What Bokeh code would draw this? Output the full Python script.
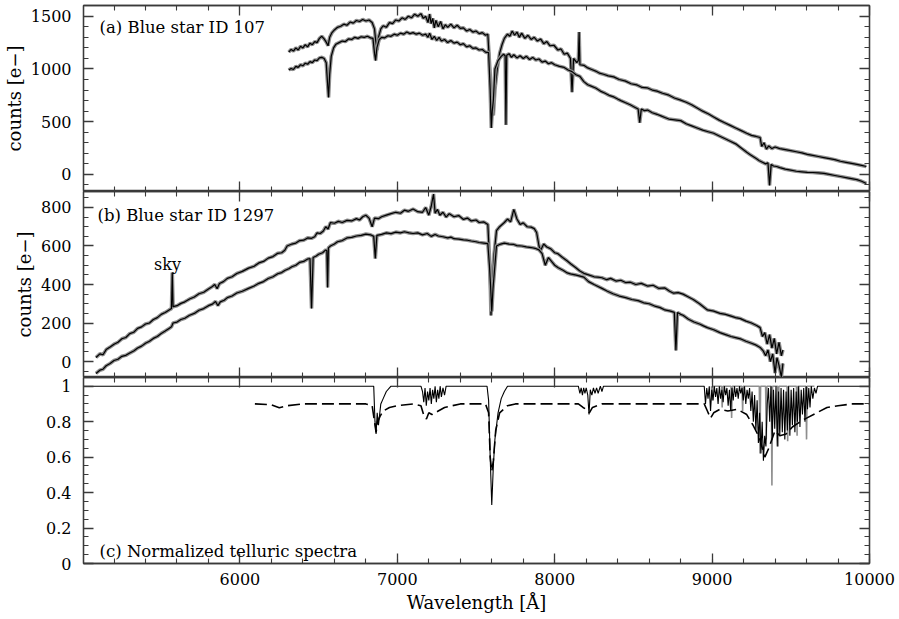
from bokeh.plotting import figure
from bokeh.layouts import column
from bokeh.models import Range1d, LinearAxis, SingleIntervalTicker, Label, CustomJSTickFormatter
from bokeh.embed import file_html
from bokeh.resources import INLINE

# ---------------- data ----------------
# Panel (a): Blue star ID 107, upper spectrum
A_HI_WL = [6310, 6325, 6340, 6355, 6370, 6385, 6400, 6415, 6430, 6445, 6460, 6475, 6490, 6505,
           6520, 6535, 6550, 6560, 6570, 6585, 6600, 6620, 6640, 6660, 6680, 6700, 6720, 6740,
           6760, 6780, 6800, 6820, 6840, 6855, 6865, 6872, 6880, 6895, 6910, 6930, 6950, 6970,
           6990, 7010, 7030, 7050, 7070, 7090, 7110, 7130, 7150, 7165, 7180, 7195, 7205, 7215,
           7225, 7235, 7245, 7260, 7275, 7290, 7305, 7320, 7340, 7360, 7380, 7400, 7420, 7440,
           7460, 7480, 7500, 7520, 7540, 7560, 7575, 7590, 7600, 7610, 7620, 7635, 7650, 7665,
           7680, 7700, 7715, 7730, 7745, 7760, 7775, 7790, 7810, 7830, 7850, 7870, 7890, 7910,
           7930, 7950, 7970, 7995, 8020, 8040, 8060, 8080, 8100, 8110, 8120, 8140, 8150, 8155,
           8160, 8185, 8210, 8235, 8260, 8285, 8310, 8340, 8375, 8410, 8450, 8485, 8520, 8555,
           8590, 8620, 8650, 8685, 8720, 8760, 8800, 8835, 8870, 8905, 8940, 8975, 9010, 9045,
           9080, 9115, 9150, 9185, 9220, 9250, 9280, 9305, 9315, 9330, 9345, 9360, 9380, 9400,
           9430, 9465, 9500, 9535, 9570, 9605, 9640, 9675, 9710, 9745, 9780, 9815, 9850, 9885,
           9920, 9950, 9980]
A_HI_CT = [1160, 1185, 1170, 1200, 1180, 1215, 1200, 1230, 1210, 1245, 1230, 1260, 1250, 1290,
           1310, 1285, 1250, 1220, 1300, 1345, 1370, 1395, 1405, 1425, 1415, 1445, 1435, 1460,
           1450, 1470, 1455, 1465, 1440, 1380, 1230, 1180, 1300, 1380, 1410, 1395, 1440, 1430,
           1465, 1455, 1485, 1470, 1500, 1485, 1520, 1500, 1525, 1480, 1500, 1440, 1520, 1430,
           1480, 1390, 1460, 1400, 1450, 1380, 1420, 1395, 1425, 1390, 1415, 1385, 1390, 1360,
           1375, 1350, 1360, 1335, 1345, 1320, 1330, 950, 620, 560, 800, 1000, 1150, 1230,
           1290, 1330, 1310, 1360, 1320, 1350, 1300, 1340, 1290, 1320, 1280, 1300, 1265, 1285,
           1240, 1260, 1220, 1225, 1180, 1190, 1140, 1150, 1100, 780, 1100, 1060, 1080, 1350,
           1040, 1035, 1010, 995, 980, 960, 950, 935, 925, 900, 885, 860, 850, 825,
           820, 800, 790, 770, 755, 725, 705, 685, 660, 630, 600, 575, 545, 515,
           490, 465, 440, 415, 390, 370, 360, 350, 265, 300, 240, 270, 245, 260,
           245, 235, 225, 215, 205, 190, 180, 170, 160, 150, 140, 125, 115, 105,
           95, 85, 75]
# Panel (a): lower spectrum
A_LO_WL = [6310, 6325, 6340, 6355, 6370, 6385, 6400, 6415, 6430, 6445, 6460, 6475, 6490, 6505,
           6520, 6535, 6548, 6555, 6563, 6570, 6580, 6595, 6610, 6630, 6650, 6670, 6690, 6710,
           6730, 6750, 6770, 6790, 6810, 6830, 6845, 6855, 6862, 6870, 6885, 6900, 6920, 6940,
           6960, 6980, 7000, 7020, 7040, 7060, 7080, 7100, 7120, 7140, 7160, 7180, 7195, 7205,
           7220, 7235, 7250, 7265, 7280, 7300, 7320, 7340, 7360, 7380, 7400, 7420, 7440, 7460,
           7480, 7500, 7520, 7540, 7560, 7580, 7590, 7597, 7603, 7610, 7620, 7640, 7660, 7675,
           7685, 7690, 7695, 7710, 7725, 7740, 7760, 7780, 7800, 7820, 7840, 7860, 7880, 7900,
           7920, 7940, 7960, 7980, 8000, 8030, 8060, 8085, 8110, 8135, 8160, 8185, 8210, 8235,
           8260, 8290, 8320, 8345, 8375, 8400, 8420, 8450, 8480, 8505, 8530, 8540, 8550, 8570,
           8590, 8620, 8650, 8675, 8700, 8725, 8750, 8775, 8800, 8835, 8870, 8905, 8940, 8975,
           9010, 9045, 9080, 9115, 9150, 9185, 9220, 9240, 9260, 9280, 9300, 9320, 9340, 9355,
           9365, 9375, 9390, 9410, 9430, 9465, 9500, 9535, 9570, 9605, 9640, 9675, 9710, 9745,
           9780, 9815, 9850, 9885, 9920, 9950, 9980]
A_LO_CT = [990, 1005, 995, 1025, 1015, 1040, 1030, 1055, 1045, 1070, 1060, 1085, 1080, 1105,
           1110, 1100, 1060, 900, 730, 950, 1120, 1200, 1235, 1250, 1265, 1260, 1285, 1280,
           1300, 1290, 1305, 1300, 1310, 1295, 1290, 1150, 1080, 1200, 1280, 1300, 1295, 1315,
           1310, 1330, 1320, 1340, 1330, 1350, 1335, 1345, 1330, 1340, 1320, 1330, 1300, 1340,
           1280, 1310, 1270, 1300, 1265, 1280, 1250, 1270, 1245, 1255, 1230, 1240, 1210, 1220,
           1195, 1200, 1180, 1185, 1160, 1155, 800, 440, 600, 700, 1000, 1080, 1120, 1140,
           1125, 470, 1130, 1145, 1110, 1135, 1105, 1125, 1100, 1120, 1090, 1110, 1085, 1095,
           1065, 1075, 1050, 1060, 1040, 1025, 1015, 990, 975, 945, 930, 880, 850, 835,
           820, 790, 770, 750, 735, 715, 700, 680, 660, 640, 620, 490, 620, 605,
           610, 585, 570, 555, 540, 525, 520, 515, 510, 480, 460, 440, 420, 405,
           390, 365, 340, 315, 290, 250, 210, 190, 170, 150, 130, 115, 100, 110,
           -105, 95, 80, 75, 65, 50, 40, 30, 25, 20, 18, 15, 10, 0,
           -10, -20, -30, -40, -50, -65, -86]

# Panel (b): Blue star ID 1297, upper spectrum
B_HI_WL = [5085, 5110, 5130, 5150, 5175, 5200, 5225, 5250, 5275, 5300, 5325, 5350, 5375, 5400,
           5425, 5450, 5475, 5500, 5525, 5550, 5565, 5570, 5575, 5600, 5625, 5650, 5680, 5710,
           5740, 5770, 5800, 5825, 5840, 5855, 5870, 5895, 5920, 5950, 5980, 6015, 6055, 6090,
           6120, 6150, 6180, 6210, 6240, 6265, 6285, 6300, 6330, 6355, 6380, 6405, 6430, 6455,
           6475, 6490, 6510, 6530, 6545, 6560, 6575, 6600, 6625, 6650, 6680, 6710, 6740, 6760,
           6780, 6800, 6820, 6840, 6855, 6880, 6900, 6930, 6960, 6990, 7020, 7045, 7070, 7100,
           7130, 7160, 7180, 7200, 7215, 7230, 7240, 7255, 7270, 7290, 7310, 7330, 7360, 7390,
           7420, 7445, 7470, 7500, 7520, 7550, 7575, 7588, 7595, 7605, 7615, 7630, 7650, 7680,
           7700, 7720, 7740, 7760, 7780, 7800, 7825, 7850, 7870, 7885, 7900, 7910, 7930, 7950,
           7975, 8000, 8020, 8050, 8080, 8105, 8130, 8160, 8185, 8215, 8250, 8275, 8300, 8330,
           8355, 8390, 8420, 8450, 8480, 8515, 8550, 8590, 8625, 8660, 8700, 8730, 8755, 8785,
           8815, 8850, 8880, 8920, 8970, 9010, 9050, 9085, 9120, 9150, 9180, 9215, 9250, 9280,
           9305, 9320, 9335, 9350, 9365, 9380, 9395, 9410, 9425, 9440, 9450]
B_HI_CT = [21, 40, 35, 62, 75, 90, 100, 118, 125, 145, 152, 172, 180, 195,
           200, 218, 228, 245, 255, 268, 275, 462, 285, 290, 302, 310, 325, 335,
           352, 360, 377, 390, 400, 378, 405, 415, 432, 440, 457, 468, 485, 495,
           512, 520, 537, 545, 562, 565, 578, 600, 610, 615, 628, 630, 642, 640,
           648, 668, 665, 678, 700, 688, 722, 718, 728, 722, 733, 730, 742, 735,
           752, 760, 745, 700, 745, 742, 752, 760, 768, 775, 770, 786, 780, 792,
           778, 775, 800, 760, 805, 870, 770, 790, 760, 775, 750, 768, 752, 758,
           738, 745, 730, 735, 722, 725, 712, 500, 239, 400, 560, 680, 700, 722,
           740, 725, 790, 740, 712, 720, 700, 698, 690, 670, 600, 576, 610, 595,
           585, 565, 560, 540, 522, 505, 490, 470, 458, 450, 440, 438, 435, 425,
           432, 418, 422, 410, 412, 400, 406, 392, 396, 380, 382, 365, 355, 358,
           350, 335, 322, 300, 268, 262, 250, 245, 236, 228, 223, 210, 200, 188,
           176, 130, 150, 90, 140, 70, 120, 40, 100, 30, 60]
# Panel (b): lower spectrum
B_LO_WL = [5085, 5110, 5130, 5150, 5175, 5200, 5225, 5250, 5275, 5300, 5325, 5350, 5375, 5400,
           5425, 5450, 5475, 5500, 5525, 5550, 5565, 5570, 5575, 5600, 5625, 5650, 5680, 5710,
           5740, 5770, 5800, 5825, 5845, 5860, 5875, 5900, 5920, 5950, 5980, 6015, 6055, 6090,
           6120, 6150, 6180, 6210, 6240, 6265, 6285, 6310, 6330, 6355, 6380, 6405, 6430, 6445,
           6455, 6465, 6485, 6500, 6525, 6545, 6552, 6557, 6562, 6575, 6600, 6620, 6650, 6680,
           6710, 6740, 6770, 6800, 6830, 6850, 6860, 6870, 6900, 6930, 6960, 6990, 7020, 7045,
           7075, 7100, 7130, 7160, 7190, 7215, 7240, 7260, 7290, 7320, 7340, 7360, 7390, 7420,
           7445, 7470, 7500, 7520, 7550, 7575, 7585, 7592, 7600, 7608, 7615, 7630, 7650, 7680,
           7710, 7740, 7760, 7790, 7820, 7850, 7875, 7900, 7920, 7940, 7960, 7985, 8000, 8020,
           8050, 8080, 8100, 8130, 8155, 8185, 8215, 8250, 8275, 8300, 8335, 8370, 8410, 8450,
           8490, 8530, 8565, 8600, 8635, 8670, 8700, 8735, 8760, 8770, 8780, 8800, 8815, 8850,
           8885, 8920, 8945, 8970, 9010, 9050, 9085, 9120, 9150, 9180, 9215, 9250, 9280, 9305,
           9325, 9340, 9355, 9370, 9385, 9400, 9412, 9425, 9440, 9450]
B_LO_CT = [-62, -45, -40, -22, -10, 5, 12, 27, 32, 44, 55, 70, 80, 95,
           105, 120, 130, 146, 158, 172, 180, 190, 200, 205, 218, 225, 240, 250,
           266, 275, 290, 298, 312, 290, 310, 318, 332, 340, 356, 365, 380, 392,
           406, 415, 431, 440, 456, 462, 473, 482, 492, 500, 515, 520, 532, 535,
           275, 540, 548, 557, 565, 580, 575, 384, 590, 600, 610, 622, 628, 642,
           645, 652, 655, 662, 658, 650, 535, 655, 660, 668, 664, 672, 668, 674,
           668, 665, 668, 658, 665, 650, 660, 652, 648, 642, 646, 638, 636, 632,
           630, 626, 622, 618, 615, 612, 500, 400, 260, 380, 450, 600, 608, 615,
           610, 608, 602, 600, 595, 592, 588, 580, 560, 500, 540, 515, 500, 488,
           475, 460, 455, 450, 445, 438, 415, 400, 390, 380, 365, 352, 340, 332,
           322, 316, 305, 300, 288, 280, 268, 262, 255, 57, 255, 245, 240, 220,
           205, 195, 185, 176, 165, 150, 140, 130, 124, 118, 105, 95, 85, 73,
           55, 30, 60, 0, 40, -60, 20, -20, -80, -10]

# Panel (c): normalized telluric spectra, solid
C_SOLID_WL = [5006, 6850, 6858, 6865, 6872, 6880, 6895, 6910, 6930, 6950, 6960,
              7150, 7160, 7168, 7176, 7184, 7192, 7200, 7208, 7216, 7224, 7232, 7240, 7248, 7256,
              7264, 7272, 7280, 7290, 7300, 7310,
              7570, 7580, 7590, 7600, 7610, 7620, 7640, 7660, 7680, 7700,
              8150, 8160, 8168, 8176, 8184, 8192, 8200, 8210, 8218, 8226, 8236, 8246, 8256, 8266,
              8276, 8290, 8300, 8310,
              8950, 8958, 8966, 8974, 8982, 8990, 8998, 9006, 9014, 9022, 9030, 9038, 9046, 9054,
              9062, 9070, 9078, 9086, 9094, 9102, 9110, 9118, 9126, 9134, 9142, 9150, 9158, 9166,
              9174, 9182, 9190, 9198, 9206, 9214, 9222, 9230, 9238, 9246, 9254, 9262, 9270, 9278,
              9286, 9294, 9302, 9310, 9318, 9326, 9334, 9342, 9350, 9358, 9366, 9374, 9382, 9390,
              9398, 9406, 9414, 9422, 9430, 9438, 9446, 9454, 9462, 9470, 9478, 9486, 9494, 9502,
              9510, 9518, 9526, 9534, 9542, 9550, 9558, 9566, 9574, 9582, 9590, 9598, 9606, 9614,
              9622, 9630, 9640, 9650, 9660, 9670, 10000]
C_SOLID_V = [1.0, 1.0, 0.80, 0.73, 0.85, 0.78, 0.90, 0.93, 0.97, 0.99, 1.0,
             1.0, 0.97, 0.91, 0.99, 0.89, 0.97, 0.92, 0.99, 0.90, 0.98, 0.93, 1.0, 0.91, 0.98,
             0.93, 1.0, 0.94, 0.99, 0.95, 1.0,
             1.0, 0.92, 0.60, 0.33, 0.55, 0.70, 0.85, 0.93, 0.97, 1.0,
             1.0, 0.96, 0.99, 0.95, 0.99, 0.96, 0.99, 0.95, 0.84, 0.98, 0.95, 0.99, 0.96, 0.99,
             0.96, 1.0, 0.97, 1.0,
             1.0, 0.90, 0.99, 0.93, 1.0, 0.86, 0.98, 0.92, 1.0, 0.94, 0.99, 0.90, 1.0, 0.93,
             0.98, 0.91, 1.0, 0.95, 0.99, 0.89, 0.98, 0.86, 0.99, 0.92, 1.0, 0.94, 0.99, 0.93,
             1.0, 0.96, 0.99, 0.92, 1.0, 0.90, 0.98, 0.93, 0.99, 0.86, 0.97, 0.80, 0.95, 0.75,
             0.92, 0.68, 0.85, 0.62, 0.80, 0.58, 0.72, 0.66, 0.90, 0.99, 0.80, 1.0, 0.70, 0.98,
             0.76, 1.0, 0.66, 0.97, 0.72, 0.99, 0.74, 0.98, 0.70, 0.97, 0.75, 1.0, 0.72, 0.98,
             0.78, 0.99, 0.74, 0.97, 0.80, 1.0, 0.77, 0.98, 0.84, 0.99, 0.80, 1.0, 0.87, 0.99,
             0.88, 1.0, 0.93, 0.99, 0.96, 1.0, 1.0]
# Panel (c): grey spikes of the second spectrum
C_GREY_WL = [8996, 9000, 9004, 9060, 9064, 9068, 9120, 9124, 9128, 9190, 9194, 9198, 9300, 9304,
             9308, 9340, 9344, 9348, 9376, 9380, 9384, 9416, 9420, 9424, 9476, 9480, 9484, 9536,
             9540, 9544, 9596, 9600, 9604, 9650]
C_GREY_V = [1.0, 0.92, 1.0, 1.0, 0.88, 1.0, 1.0, 0.82, 1.0, 1.0, 0.86, 1.0, 1.0, 0.62,
            1.0, 1.0, 0.70, 1.0, 1.0, 0.44, 1.0, 1.0, 0.66, 1.0, 1.0, 0.69, 1.0, 1.0,
            0.72, 1.0, 1.0, 0.70, 1.0, 1.0]
# Panel (c): dashed spectrum
C_DASH_WL = [6095, 6200, 6250, 6300, 6400, 6800, 6840, 6855, 6865, 6875, 6890, 6910, 6950, 7000,
             7100, 7150, 7170, 7185, 7200, 7220, 7260, 7300, 7400, 7560, 7580, 7590, 7600, 7610,
             7625, 7650, 7700, 7750, 8150, 8180, 8200, 8220, 8240, 8300, 8950, 8970, 8990, 9010,
             9050, 9100, 9160, 9220, 9260, 9300, 9335, 9360, 9400, 9430, 9470, 9510, 9560, 9600,
             9665, 9730, 9800, 9890, 10000]
C_DASH_V = [0.90, 0.895, 0.878, 0.89, 0.90, 0.90, 0.89, 0.80, 0.74, 0.80, 0.83, 0.86, 0.88, 0.89,
            0.90, 0.89, 0.83, 0.815, 0.85, 0.84, 0.86, 0.88, 0.90, 0.90, 0.85, 0.60, 0.52, 0.58,
            0.75, 0.85, 0.89, 0.90, 0.90, 0.88, 0.87, 0.85, 0.88, 0.90, 0.90, 0.86, 0.82, 0.85,
            0.87, 0.86, 0.87, 0.84, 0.78, 0.71, 0.60, 0.65, 0.75, 0.72, 0.73, 0.77, 0.80, 0.82,
            0.85, 0.88, 0.89, 0.90, 0.90]

X_RANGE = (5006, 10000)
X_TICK_STEP = 1000
PANEL_TITLES = ["(a) Blue star ID 107", "(b) Blue star ID 1297", "(c) Normalized telluric spectra"]

# ---------------- styling helpers ----------------
FONT = "DejaVu Serif"
AXC = "#3a3a3a"
FRAME_W = 789
LEFT, RIGHT = 80, 28
TICK_FS = "16px"
TITLE_FS = "16.5px"
AXLABEL_FS = "18px"


def style_axis(ax, show_labels):
    ax.major_tick_in = 10
    ax.major_tick_out = 0
    ax.minor_tick_in = 5
    ax.minor_tick_out = 0
    ax.axis_line_color = AXC
    ax.major_tick_line_color = AXC
    ax.minor_tick_line_color = AXC
    ax.axis_line_width = 1.3
    ax.major_tick_line_width = 1.3
    ax.minor_tick_line_width = 1.1
    ax.major_label_text_font = FONT
    ax.major_label_text_font_size = TICK_FS
    ax.major_label_text_color = "black"
    ax.axis_label_text_font = FONT
    ax.axis_label_text_font_style = "normal"
    ax.axis_label_text_font_size = AXLABEL_FS
    ax.axis_label_text_color = "black"
    if not show_labels:
        ax.formatter = CustomJSTickFormatter(code="return ''")
        ax.major_label_text_font_size = "0px"
        ax.major_label_standoff = 0
        ax.axis_label_standoff = 0


def make_panel(height, y_range, y_step, y_minor, bottom_labels, border_top, border_bottom,
               ylabel, yfmt=None):
    p = figure(width=LEFT + FRAME_W + RIGHT, height=height, output_backend="svg",
               toolbar_location=None, x_range=Range1d(*X_RANGE), y_range=Range1d(*y_range),
               x_axis_location=None, y_axis_location=None,
               min_border_left=LEFT, min_border_right=RIGHT, min_border_top=border_top,
               min_border_bottom=border_bottom)
    p.grid.visible = False
    p.outline_line_color = AXC
    p.outline_line_width = 1.3
    p.background_fill_color = "white"
    p.border_fill_color = "white"

    for loc in ("above", "below"):
        ax = LinearAxis(ticker=SingleIntervalTicker(interval=X_TICK_STEP, num_minor_ticks=5))
        show = bottom_labels and loc == "below"
        style_axis(ax, show)
        if show:
            ax.major_label_standoff = 9
            ax.axis_label = "Wavelength [Å]"
            ax.axis_label_standoff = 4
            ax.formatter = CustomJSTickFormatter(code="return tick.toFixed(0)")
        p.add_layout(ax, loc)
    for loc in ("left", "right"):
        ax = LinearAxis(ticker=SingleIntervalTicker(interval=y_step, num_minor_ticks=y_minor))
        show = loc == "left"
        style_axis(ax, show)
        if show:
            ax.major_label_standoff = 12
            if yfmt is not None:
                ax.formatter = CustomJSTickFormatter(code=yfmt)
            if ylabel:
                ax.axis_label = ylabel
                ax.axis_label_standoff = 3
        p.add_layout(ax, loc)
    return p


def spectrum(p, wl, ct):
    p.line(wl, ct, line_color="#8e8e8e", line_width=3.6)
    p.line(wl, ct, line_color="black", line_width=1.2)


# ---------------- panel (a) ----------------
pa = make_panel(191, (-162, 1602), 500, 5, False, 5, 0, "counts [e−]")
spectrum(pa, A_HI_WL, A_HI_CT)
spectrum(pa, A_LO_WL, A_LO_CT)
pa.add_layout(Label(x=5108, y=1390, text=PANEL_TITLES[0], text_font=FONT,
                    text_font_size=TITLE_FS, text_color="black", text_baseline="alphabetic"))

# ---------------- panel (b) ----------------
pb = make_panel(186, (-83, 883), 200, 4, False, 0, 0, "counts [e−]")
spectrum(pb, B_HI_WL, B_HI_CT)
spectrum(pb, B_LO_WL, B_LO_CT)
pb.add_layout(Label(x=5095, y=758, text=PANEL_TITLES[1], text_font=FONT,
                    text_font_size=TITLE_FS, text_color="black", text_baseline="alphabetic"))
pb.add_layout(Label(x=5540, y=504, text="sky", text_font=FONT, text_font_size="16px",
                    text_color="black", text_align="center", text_baseline="alphabetic"))

# ---------------- panel (c) ----------------
pc = make_panel(240, (0, 1.049), 0.2, 4, True, 0, 54, None,
                yfmt="return tick.toFixed(1).replace(/\\.0$/, '')")
pc.line(C_GREY_WL, C_GREY_V, line_color="#8e8e8e", line_width=1.6)
pc.line(C_SOLID_WL, C_SOLID_V, line_color="black", line_width=1.1)
pc.line(C_DASH_WL, C_DASH_V, line_color="black", line_width=1.6, line_dash="12 5")
pc.add_layout(Label(x=5108, y=0.068, text=PANEL_TITLES[2], text_font=FONT,
                    text_font_size=TITLE_FS, text_color="black", text_baseline="alphabetic"))

layout = column(pa, pb, pc, spacing=0)
open("out.html", "w").write(file_html(layout, INLINE))
